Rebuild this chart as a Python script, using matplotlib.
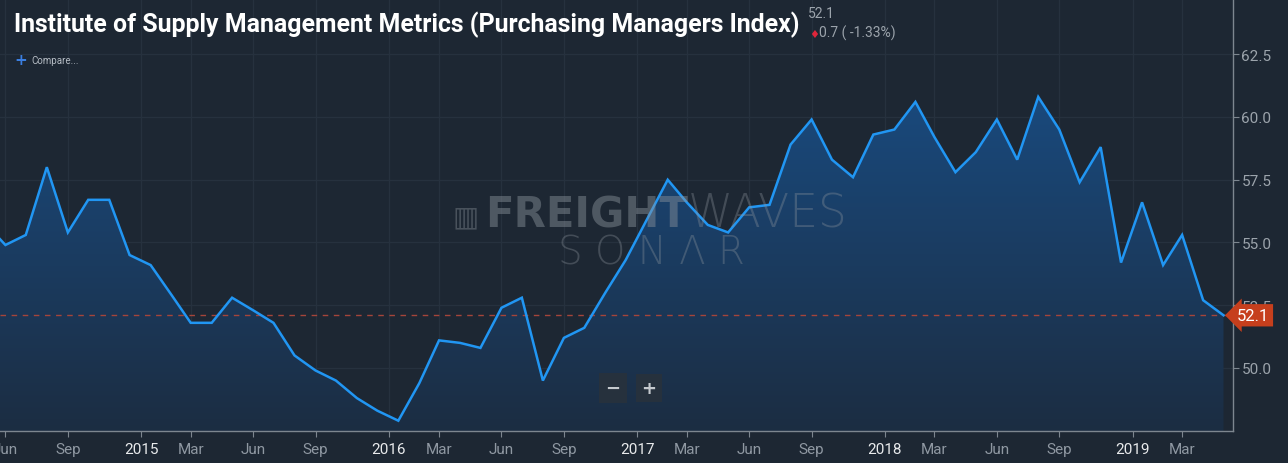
import numpy as np
import pandas as pd
import matplotlib
matplotlib.use("Agg")
import matplotlib.pyplot as plt
import matplotlib.dates as mdates
from matplotlib.colors import LinearSegmentedColormap

title = "Institute of Supply Management Metrics (Purchasing Managers Index)"
months = pd.date_range("2014-05-01", "2019-05-01", freq="MS") + pd.Timedelta(days=14)
pmi = [55.8, 54.9, 55.3, 58.0, 55.4, 56.7, 56.7, 54.5,
       54.1, 52.9, 51.8, 51.8, 52.8, 52.3, 51.8, 50.5, 49.9, 49.5, 48.8, 48.3,
       47.9, 49.4, 51.1, 51.0, 50.8, 52.4, 52.8, 49.5, 51.2, 51.6, 53.0, 54.3,
       55.9, 57.5, 56.6, 55.7, 55.4, 56.4, 56.5, 58.9, 59.9, 58.3, 57.6, 59.3,
       59.5, 60.6, 59.2, 57.8, 58.6, 59.9, 58.3, 60.8, 59.5, 57.4, 58.8, 54.2,
       56.6, 54.1, 55.3, 52.7, 52.1]
change_text = "0.7 ( -1.33%)"
yticks = [50.0, 52.5, 55.0, 57.5, 60.0, 62.5]
month_names = {3: "Mar", 6: "Jun", 9: "Sep"}

bg = "#1d2733"
W, H = 1288, 464
fig = plt.figure(figsize=(W / 100, H / 100), dpi=100, facecolor=bg)
ax = fig.add_axes([0, 1 - 432 / H, 1233 / W, 432 / H])
ax.set_facecolor(bg)

x = mdates.date2num(months)
x0 = mdates.date2num(pd.Timestamp("2014-06-07"))
x1 = mdates.date2num(pd.Timestamp("2019-05-29"))
ylo, yhi = 47.49, 64.70

# gradient fill under the line
poly = ax.fill_between(x, pmi, ylo, color="none", lw=0)
grad = np.linspace(0, 1, 256).reshape(-1, 1)
cmap = LinearSegmentedColormap.from_list("fill", ["#1c2d42", "#194a7e"])
im = ax.imshow(grad, extent=[x0, x1, ylo, max(pmi) + 0.3], origin="lower",
               aspect="auto", cmap=cmap, zorder=1)
im.set_clip_path(poly.get_paths()[0], transform=ax.transData)

ax.plot(x, pmi, color="#2196f3", lw=1.8, zorder=3, solid_joinstyle="miter")
ax.axhline(pmi[-1], color="#a5453a", ls=(0, (4, 4)), lw=1.0, zorder=2)

ax.set_xlim(x0, x1)
ax.set_ylim(ylo, yhi)

# ticks
tick_pos, tick_lab, tick_year = [], [], []
for yr in range(2014, 2020):
    if yr > 2014:
        tick_pos.append(mdates.date2num(pd.Timestamp(yr, 1, 1)))
        tick_lab.append(str(yr))
        tick_year.append(True)
    for m, name in month_names.items():
        p = mdates.date2num(pd.Timestamp(yr, m, 15))
        if x0 - 20 <= p <= x1:
            tick_pos.append(p)
            tick_lab.append(name)
            tick_year.append(False)
ax.set_xticks(tick_pos)
ax.set_xticklabels(tick_lab)
for lab, isy in zip(ax.get_xticklabels(), tick_year):
    lab.set_color("#e8eaec" if isy else "#8f98a2")
ax.tick_params(axis="x", length=4, color="#7d868f", pad=4, labelsize=11)

ax.yaxis.tick_right()
ax.set_yticks(yticks)
ax.set_yticklabels([f"{v:.1f}" for v in yticks])
ax.tick_params(axis="y", length=4, color="#7d868f", pad=2, labelsize=11,
               labelcolor="#9ca4ac")
for lab in ax.get_xticklabels() + ax.get_yticklabels():
    lab.set_family(["Roboto", "DejaVu Sans"])

ax.grid(color="#26313e", lw=0.9)
ax.set_axisbelow(True)
for s in ["top", "left"]:
    ax.spines[s].set_visible(False)
for s in ["right", "bottom"]:
    ax.spines[s].set_color("#7d868f")
    ax.spines[s].set_linewidth(1)

# last value label
ax.annotate(f"{pmi[-1]:.1f}", xy=(1.0, pmi[-1]), xycoords=("axes fraction", "data"),
            xytext=(3, 0), textcoords="offset points", ha="left", va="center",
            color="white", fontsize=12, family="Roboto", zorder=6,
            bbox=dict(boxstyle="larrow,pad=0.22", fc="#c63f1d", ec="none"),
            annotation_clip=False)

# watermark
t1 = fig.text(485 / W, 1 - 228 / H, "FREIGHT", fontsize=24, fontweight="bold",
              color="#8c949c", alpha=0.45, family="DejaVu Sans", zorder=0)
t2 = fig.text(688 / W, 1 - 228 / H, "WAVES", fontsize=24, fontweight="light",
              color="#8c949c", alpha=0.35, family="DejaVu Sans", zorder=0)
t3 = fig.text(651 / W, 1 - 265 / H, "S O N Λ R", fontsize=26, fontweight="light",
              color="#8c949c", alpha=0.35, family="DejaVu Sans", ha="center", zorder=0)
fig.text(466 / W, 1 - 217 / H, "▥", fontsize=20, color="#8c949c", alpha=0.4,
         family="DejaVu Sans", ha="center", va="center", zorder=0)

# title
tt = fig.text(14 / W, 1 - 32 / H, title, fontsize=20, fontweight="bold", color="white",
              family=["Liberation Sans Narrow", "Roboto"])
fig.canvas.draw()
w = tt.get_window_extent().width
tt.set_fontsize(20 * 786 / w)
for t, target in [(t1, 203), (t2, 160), (t3, 187)]:
    fs = t.get_fontsize()
    t.set_fontsize(fs * target / t.get_window_extent().width)

fig.text(808 / W, 1 - 18 / H, f"{pmi[-1]:.1f}", fontsize=10, color="#9ca4ac",
         family="Roboto")
fig.text(809 / W, 1 - 38 / H, "♦", fontsize=8, color="#e0263b", family="DejaVu Sans")
fig.text(819 / W, 1 - 38 / H, change_text, fontsize=10, color="#9ca4ac", family="Roboto")
fig.text(14 / W, 1 - 65 / H, "+", fontsize=11, color="#3a7ee0", fontweight="bold",
         family="DejaVu Sans")
fig.text(31 / W, 1 - 64 / H, "Compare...", fontsize=7, color="#b5bcc4", family="Roboto")

# zoom buttons
fig.text(613 / W, 1 - 389 / H, "−", fontsize=13, color="#c4c9ce", ha="center",
         va="center", fontweight="bold",
         bbox=dict(boxstyle="square,pad=0.35", fc="#26313d", ec="none"))
fig.text(649 / W, 1 - 389 / H, "+", fontsize=13, color="#c4c9ce", ha="center",
         va="center", fontweight="bold",
         bbox=dict(boxstyle="square,pad=0.3", fc="#26313d", ec="none"))

fig.savefig("out.png", dpi=100, facecolor=bg)
